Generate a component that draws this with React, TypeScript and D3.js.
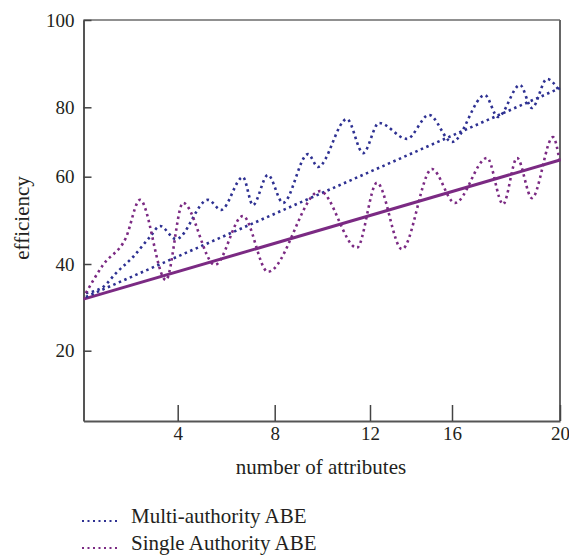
import React, { useEffect, useRef } from 'react';
import * as d3 from 'd3';

// tick values
const xTicks = [4, 8, 12, 16, 20];
const yTicks = [20, 40, 60, 80, 100];

// [number of attributes, efficiency]
const multiAuthority: [number, number][] = [
  [0.1, 33.3], [0.83, 34.7], [1.38, 37.9], [2.1, 41.6], [2.82, 46.2], [3.25, 48.7],
  [3.93, 45.7], [5.25, 54.7], [5.79, 52.4], [6.69, 59.9], [7.1, 53.5], [7.72, 60.5],
  [8.35, 54.0], [9.4, 66.5], [9.82, 62.8], [11.03, 76.6], [11.71, 66.8], [12.44, 75.5],
  [13.8, 70.9], [14.88, 77.8], [16.0, 70.0], [17.22, 82.8], [17.7, 77.2], [18.52, 85.1],
  [18.96, 79.8], [19.52, 86.5], [20, 83.5],
];
const multiTrend: [number, number][] = [[0.1, 32.4], [20, 84.4]];

const singleAuthority: [number, number][] = [
  [0.1, 33.3], [0.83, 39.8], [1.8, 46.0], [2.4, 54.7], [3.5, 36.3], [4.22, 54.0],
  [5.54, 39.8], [6.69, 51.0], [7.72, 38.2], [9.9, 56.7], [11.45, 43.7], [12.34, 58.6],
  [13.56, 43.4], [15.02, 62.2], [16.11, 54.0], [17.3, 65.4], [17.89, 53.7], [18.41, 65.4],
  [18.96, 55.1], [19.74, 71.4], [20, 63.9],
];
const singleTrend: [number, number][] = [[0, 31.9], [20, 64.8]];

const legendLabels = ['Multi-authority ABE', 'Single Authority ABE'];

const BLUE = '#2e3192';
const PURPLE = '#7b2a83';
const FONT = '"Liberation Serif", "Times New Roman", serif';

export default function App() {
  const ref = useRef<SVGSVGElement>(null);

  useEffect(() => {
    const svg = d3.select(ref.current);
    svg.selectAll('*').remove();

    // the original axes are not evenly spaced, so piecewise scales
    const x = d3.scaleLinear()
      .domain([0, 4, 8, 12, 16, 20])
      .range([83.5, 177.7, 274.7, 370, 452, 560]);
    const y = d3.scaleLinear()
      .domain([0, 20, 40, 60, 80, 100])
      .range([421, 350.7, 264, 176.7, 107.3, 20]);

    // frame
    svg.append('line')
      .attr('x1', x(0)).attr('x2', x(20)).attr('y1', y(100)).attr('y2', y(100))
      .attr('stroke', '#222').attr('stroke-width', 1.2);
    svg.append('line')
      .attr('x1', x(20)).attr('x2', x(20)).attr('y1', y(100)).attr('y2', y(0))
      .attr('stroke', '#666').attr('stroke-width', 2);

    const xAxis = svg.append('g')
      .attr('transform', `translate(0,${y(0)})`)
      .call(d3.axisBottom(x).tickValues(xTicks).tickSize(-16).tickSizeOuter(0).tickPadding(6));
    const yAxis = svg.append('g')
      .attr('transform', `translate(${x(0)},0)`)
      .call(d3.axisLeft(y).tickValues(yTicks).tickSize(-8).tickSizeOuter(0).tickPadding(9));

    [xAxis, yAxis].forEach(ax => {
      ax.select('.domain').attr('stroke', '#555').attr('stroke-width', 2);
      ax.selectAll('.tick line').attr('stroke', '#444').attr('stroke-width', 1.5);
      ax.selectAll('.tick text')
        .attr('fill', '#231f20')
        .style('font-family', FONT)
        .style('font-size', '19px');
    });

    // axis titles
    svg.append('text')
      .attr('x', 321).attr('y', 474)
      .attr('text-anchor', 'middle')
      .attr('fill', '#231f20')
      .style('font-family', FONT).style('font-size', '21px')
      .text('number of attributes');
    svg.append('text')
      .attr('transform', 'translate(29,218) rotate(-90)')
      .attr('text-anchor', 'middle')
      .attr('fill', '#231f20')
      .style('font-family', FONT).style('font-size', '21px')
      .text('efficiency');

    const wave = d3.line<[number, number]>()
      .x(d => x(d[0]))
      .y(d => y(d[1]))
      .curve(d3.curveMonotoneX);
    const straight = d3.line<[number, number]>()
      .x(d => x(d[0]))
      .y(d => y(d[1]));

    svg.append('path')
      .attr('d', straight(singleTrend))
      .attr('fill', 'none').attr('stroke', PURPLE).attr('stroke-width', 3);
    svg.append('path')
      .attr('d', straight(multiTrend))
      .attr('fill', 'none').attr('stroke', BLUE).attr('stroke-width', 2.6)
      .attr('stroke-dasharray', '2.5,3.5');
    svg.append('path')
      .attr('d', wave(multiAuthority))
      .attr('fill', 'none').attr('stroke', BLUE).attr('stroke-width', 2.6)
      .attr('stroke-dasharray', '2.5,3.5');
    svg.append('path')
      .attr('d', wave(singleAuthority))
      .attr('fill', 'none').attr('stroke', PURPLE).attr('stroke-width', 2.6)
      .attr('stroke-dasharray', '2.5,3.5');

    // legend
    const legend = svg.append('g');
    legendLabels.forEach((label, i) => {
      const ly = 517 + i * 27;
      legend.append('line')
        .attr('x1', 82).attr('x2', 119).attr('y1', ly + 4).attr('y2', ly + 4)
        .attr('stroke', i === 0 ? BLUE : PURPLE).attr('stroke-width', 2)
        .attr('stroke-dasharray', '2,3.5');
      legend.append('text')
        .attr('x', 131).attr('y', ly + 6)
        .attr('fill', '#231f20')
        .style('font-family', FONT).style('font-size', '21px')
        .text(label);
    });
  }, []);

  return (
    <svg ref={ref} width={569} height={556}
      style={{ position: 'absolute', left: 0, top: 0, background: '#fff' }} />
  );
}
